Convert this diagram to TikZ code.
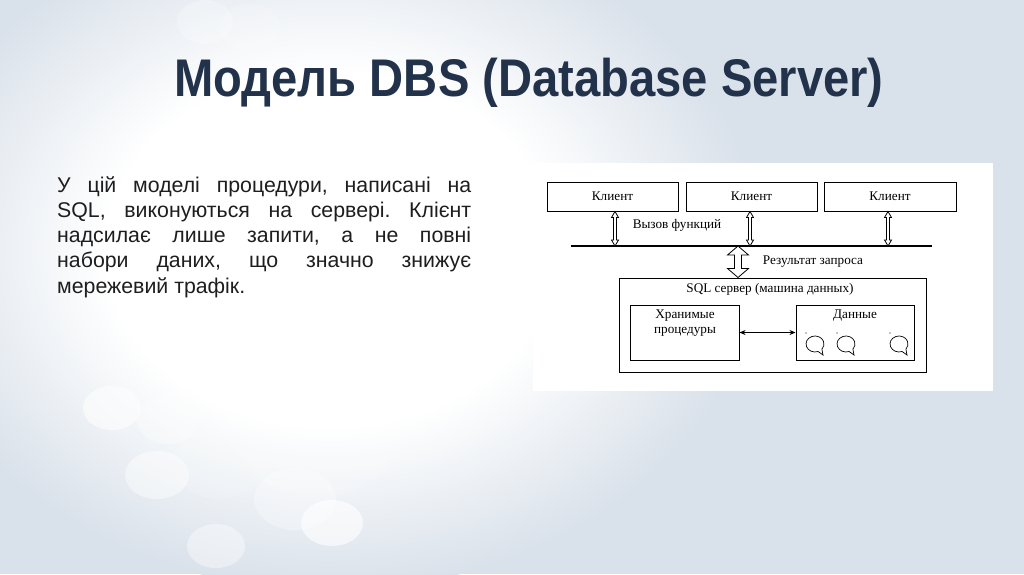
\documentclass[tikz,border=0pt]{standalone}
\usepackage{fontspec}
\setmainfont{Liberation Sans}
\newfontfamily\schemefont{Liberation Serif}
\usetikzlibrary{arrows.meta,calc}
\definecolor{slidebg}{HTML}{D9E1EA}
\definecolor{titleblue}{HTML}{22324A}
\definecolor{bodygray}{HTML}{1E1E1E}
\pgfdeclareradialshading{slideglow}{\pgfpoint{0bp}{0bp}}{color(0bp)=(white); color(13bp)=(white); color(25bp)=(slidebg); color(50bp)=(slidebg)}

\begin{document}
\begin{tikzpicture}[x=1pt, y=-1pt,
  titletext/.style={font=\fontsize{53}{60}\selectfont\bfseries, text=titleblue, inner sep=0pt},
  bodytext/.style={font=\fontsize{21.3}{25.3}\selectfont\frenchspacing, text=bodygray, text width=414pt, align=justify, inner sep=0pt},
  box/.style={draw, line width=1pt, inner sep=0pt, font=\schemefont\fontsize{13.2}{15}\selectfont},
  lbl/.style={font=\schemefont\fontsize{13.2}{14.5}\selectfont, inner sep=0pt, align=center},
  bus/.style={line width=2pt},
  hollow/.style args={#1/#2/#3}{draw, fill=white, line width=0.8pt, line join=miter,
    to path={let \p1=(\tikztostart), \p2=(\tikztotarget) in
      (\x1,\y1) -- (\x1+#1,\y1-#3) -- (\x1+#2,\y1-#3) -- (\x1+#2,\y2+#3) -- (\x1+#1,\y2+#3)
      -- (\x1,\y2) -- (\x1-#1,\y2+#3) -- (\x1-#2,\y2+#3) -- (\x1-#2,\y1-#3) -- (\x1-#1,\y1-#3) -- cycle}},
  link/.style={line width=1pt, {Stealth[length=6pt, width=5pt]}-{Stealth[length=6pt, width=5pt]}},
  bubble/.style={line width=0.7pt}]
  \useasboundingbox (0,0) rectangle (1024,574);
  \begin{scope}
    \clip (0,0) rectangle (1024,574);
    \fill[slidebg] (0,0) rectangle (1024,574);
    \shade[shading=slideglow] (330,250) ellipse [x radius=430, y radius=340];
    \foreach \cx/\cy/\rx/\ry/\op in {112/408/29/22/0.55, 168/420/31/24/0.3, 157/475/32/24/0.45,
        295/499/41/31/0.3, 332/523/31/23/0.6, 216/546/29/22/0.4, 317/437/80/60/0.15,
        220/463/48/36/0.12, 205/22/28/22/0.25, 250/28/30/24/0.15}
      \fill[white, opacity=\op] (\cx,\cy) ellipse [x radius=\rx, y radius=\ry];
  \end{scope}

  \node[titletext, anchor=base west] (T) at (174,96) {\scalebox{0.89}[1]{Модель DBS (Database Server)}};
  \node[bodytext, anchor=base west] (B) at (57,192) {У цій моделі процедури, написані на\linebreak
    SQL, виконуються на сервері. Клієнт\linebreak
    надсилає лише запити, а не повні\linebreak
    набори даних, що значно знижує\linebreak
    мережевий трафік.};

  \fill[white] (533,163) rectangle (993,391);
  \node[box, minimum width=131, minimum height=29] (K1) at (612.5,196.5) {Клиент};
  \node[box, minimum width=131, minimum height=29] (K2) at (751.5,196.5) {Клиент};
  \node[box, minimum width=132, minimum height=29] (K3) at (890,196.5) {Клиент};
  \node[box, minimum width=307, minimum height=94] (S) at (772.5,325) {};
  \node[box, minimum width=109, minimum height=55] (P) at (684.5,332.5) {};
  \node[box, minimum width=118, minimum height=55] (D) at (855,332.5) {};
  \node[lbl] (VF) at (677,225) {Вызов функций};
  \node[lbl] (RZ) at (813,262) {Результат запроса};
  \node[lbl] (SL) at (770,289) {SQL сервер (машина данных)};
  \node[lbl] (PL) at (685,323) {Хранимые\\процедуры};
  \node[lbl] (DL) at (855,316) {Данные};
  \coordinate (BL) at (571,246);
  \coordinate (BR) at (932,246);
  \coordinate (R) at (738,246);
  \draw[bus] (BL) -- (BR);
  \path[hollow=3.5pt/1.5pt/6pt] ([xshift=2.5pt]K1.south) to ([xshift=2.5pt]K1.south |- BL);
  \path[hollow=3.5pt/1.5pt/6pt] ([xshift=-1.5pt]K2.south) to ([xshift=-1.5pt]K2.south |- BL);
  \path[hollow=3.5pt/1.5pt/6pt] ([xshift=-2pt]K3.south) to ([xshift=-2pt]K3.south |- BL);
  \path[hollow=10.5pt/3.5pt/9pt] (R) to (R |- S.north);
  \draw[link] (P) -- (D);
  \foreach \bx in {815,846,899} {
    \draw[bubble] (\bx+3.1,351.5) arc[start angle=70, end angle=400, x radius=9, y radius=8] -- (\bx+8,355) -- cycle;
    \fill (\bx-9,333) circle[radius=0.7];
  }
\end{tikzpicture}
\end{document}
